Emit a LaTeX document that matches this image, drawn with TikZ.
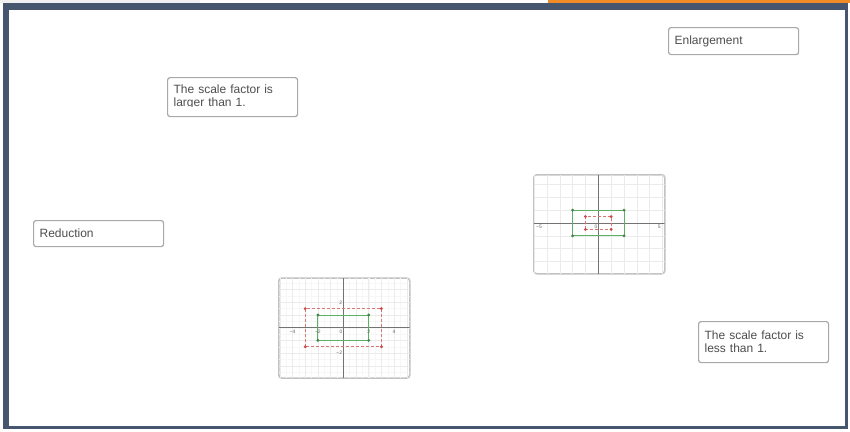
\documentclass[tikz,border=0pt]{standalone}
\usepackage{fontspec}
\setmainfont{Liberation Sans}
\usetikzlibrary{calc,positioning}
\definecolor{frameslate}{RGB}{70,86,110}
\definecolor{accentorange}{RGB}{240,140,40}
\definecolor{cardline}{RGB}{168,168,168}
\definecolor{cardink}{RGB}{78,78,78}
\definecolor{plotgreen}{RGB}{92,176,100}
\definecolor{plotred}{RGB}{204,74,70}
\tikzset{
  cardbox/.style={draw=cardline, line width=1.2, rounded corners=2.5, fill=white, text=cardink,
    font=\fontsize{12}{13}\selectfont, align=left, text width=118, inner xsep=6, inner ysep=3, anchor=north west},
  plotbox/.style={draw=black!24, line width=1.5, rounded corners=3, fill=white, anchor=north west, inner sep=0},
  gridminor/.style={draw=black!3, line width=0.4},
  gridmajor/.style={draw=black!8, line width=0.5},
  plotaxis/.style={draw=black!55, line width=0.7},
  ticklabel/.style={font=\fontsize{5}{5}\selectfont, text=black!60, inner sep=0.3},
  greenrect/.style={draw=plotgreen, line width=1},
  redrect/.style={draw=plotred!75, line width=0.9, dash pattern=on 3pt off 2pt},
}
\begin{document}
\begin{tikzpicture}[x=1pt, y=-1pt]
\useasboundingbox (0,0) rectangle (850,431);
% frame
\fill[black!6] (0,0) rectangle (200,3);
\fill[accentorange] (548,0) rectangle (850,3);
\fill[frameslate] (3,3) rectangle (848,429);
\fill[white] (9,10) rectangle (845,426);

% answer cards
\node[cardbox, minimum height=27] (enlarge) at (668,27) {Enlargement};
\node[cardbox, minimum height=26] (reduce) at (33,220) {Reduction};
\node[cardbox, minimum height=41] (less) at (698,321) {The scale factor is\\less than 1.};
\node[cardbox, minimum height=39] (larger) at (167,77) {};
\begin{scope}
  \clip ($(larger.north west)+(1,1)$) rectangle ($(larger.north east)+(-1,29)$);
  \node[cardbox, draw=none, fill=none, minimum height=39] (larger text) at (larger.north west) {The scale factor is\\larger than 1.};
\end{scope}

% reduction plot
\node[plotbox, minimum width=131, minimum height=99] (smallplot) at (533,174) {};
\begin{scope}
  \clip ($(smallplot.north west)+(1,1)$) rectangle ($(smallplot.south east)+(-1,-1)$);
  \begin{scope}[shift={(598.3,223)}, x=12.85pt, y=12.85pt]
    \draw[gridmajor] (-6,-5) grid[step=1] (6,5);
    \draw[plotaxis] (-6,0) -- (6,0);
    \draw[plotaxis] (0,-5) -- (0,5);
    \draw[greenrect] (-2,-1) rectangle (2,1);
    \draw[redrect] (-1,-0.5) rectangle (1,0.5);
    \foreach \px/\py in {-2/-1,2/-1,2/1,-2/1} \fill[plotgreen!75!black] (\px,\py) circle (1.6pt);
    \foreach \px/\py in {-1/-0.5,1/-0.5,1/0.5,-1/0.5} \fill[plotred] (\px,\py) circle (1.6pt);
    \node[ticklabel] (sx-5) at (-4.62,-0.29) {−5};
    \node[ticklabel] (sx5) at (4.75,-0.29) {5};
    \node[ticklabel] (s0) at (-0.18,-0.3) {0};
  \end{scope}
\end{scope}

% enlargement plot
\node[plotbox, minimum width=131, minimum height=100] (bigplot) at (278,277.3) {};
\begin{scope}
  \clip ($(bigplot.north west)+(1,1)$) rectangle ($(bigplot.south east)+(-1,-1)$);
  \begin{scope}[shift={(343.3,327.7)}, x=12.7pt, y=12.7pt]
    \draw[gridminor] (-6,-5) grid[step=0.5] (6,5);
    \draw[gridmajor] (-6,-5) grid[step=1] (6,5);
    \draw[plotaxis] (-6,0) -- (6,0);
    \draw[plotaxis] (0,-5) -- (0,5);
    \draw[redrect] (-3,-1.5) rectangle (3,1.5);
    \draw[greenrect] (-2,-1) rectangle (2,1);
    \foreach \px/\py in {-3/-1.5,3/-1.5,3/1.5,-3/1.5} \fill[plotred] (\px,\py) circle (1.6pt);
    \foreach \px/\py in {-2/-1,2/-1,2/1,-2/1} \fill[plotgreen!75!black] (\px,\py) circle (1.6pt);
    \foreach \tx/\tl in {-4/−4,-2/−2,2/2,4/4} \node[ticklabel] (bx\tx) at (\tx,-0.32) {\tl};
    \node[ticklabel] (b0) at (-0.18,-0.32) {0};
    \node[ticklabel, anchor=east] (by2) at (-0.05,2) {2};
    \node[ticklabel, anchor=east] (by-2) at (-0.05,-2) {−2};
  \end{scope}
\end{scope}
\end{tikzpicture}
\end{document}
